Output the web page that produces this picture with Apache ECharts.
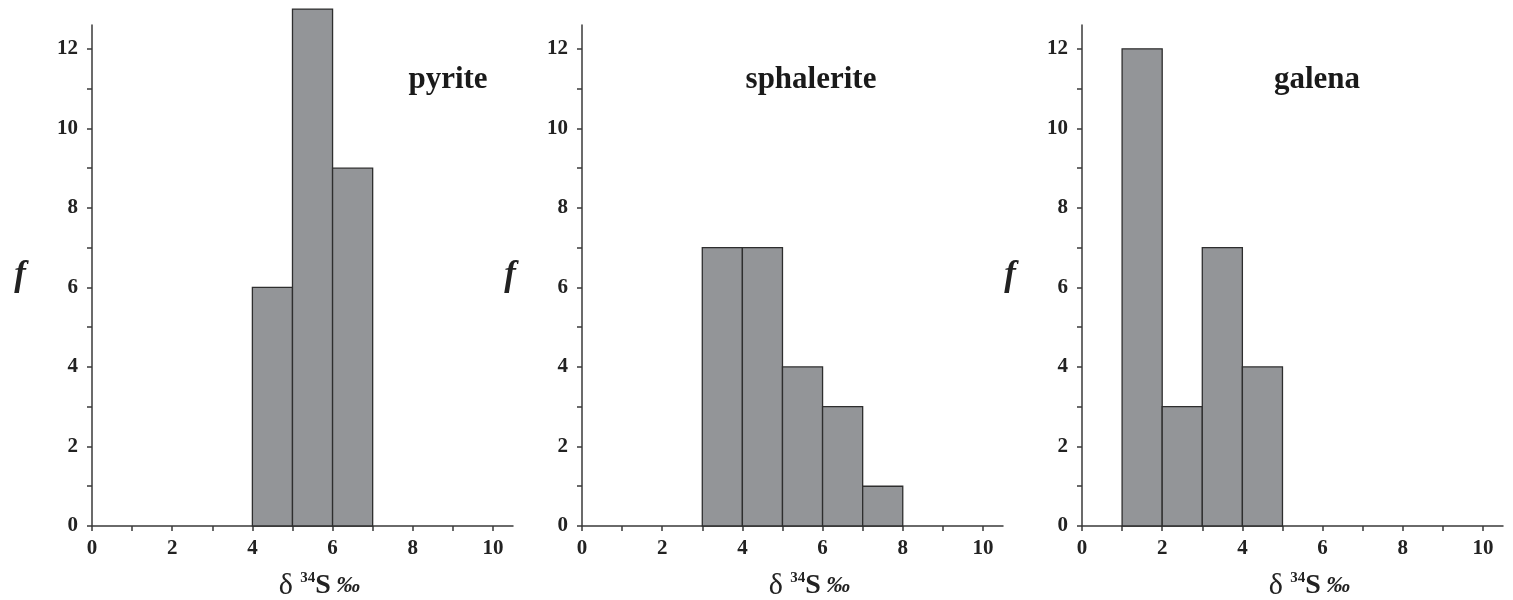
<!DOCTYPE html>
<html>
<head>
<meta charset="utf-8">
<script src="https://cdn.jsdelivr.net/npm/echarts@6/dist/echarts.min.js"></script>
<style>
  html, body { margin: 0; padding: 0; background: #fff; }
  #main { width: 1513px; height: 600px; }
</style>
</head>
<body>
<div id="main"></div>
<script>
// 各矿物 δ34S 直方图数据（组下限，组上限，频数）
const minerals = ['pyrite', 'sphalerite', 'galena']
const pyriteBins = [[4, 5], [5, 6], [6, 7]]
const pyriteCounts = [6, 13, 9]
const sphaleriteBins = [[3, 4], [4, 5], [5, 6], [6, 7], [7, 8]]
const sphaleriteCounts = [7, 7, 4, 3, 1]
const galenaBins = [[1, 2], [2, 3], [3, 4], [4, 5]]
const galenaCounts = [12, 3, 7, 4]
const xTickLabels = [0, 2, 4, 6, 8, 10]
const yTickLabels = [0, 2, 4, 6, 8, 10, 12]

const allBins = [pyriteBins, sphaleriteBins, galenaBins]
const allCounts = [pyriteCounts, sphaleriteCounts, galenaCounts]

const serif = '"Liberation Serif", "DejaVu Serif", serif'
const axisColor = '#3a3a3a'
const gridLefts = [92, 582, 1082]
const titleCenters = [443, 806, 1312]

const chart = echarts.init(document.getElementById('main'))

const grids = [], xAxes = [], yAxes = [], series = [], titles = []
minerals.forEach((name, i) => {
  grids.push({ left: gridLefts[i], top: 25, width: 421, height: 501, outerBoundsMode: 'none' })
  xAxes.push({
    type: 'value', gridIndex: i, min: 0, max: 10.5,
    name: '{d|δ} {sup|34}{s|S} {p|‰}',
    nameLocation: 'middle', nameGap: 45,
    nameTextStyle: {
      padding: [0, 0, 0, 34],
      rich: {
        d: { fontFamily: serif, fontSize: 30, color: '#222' },
        sup: { fontFamily: serif, fontSize: 15, fontWeight: 'bold', color: '#222', verticalAlign: 'top', padding: [0, 0, 12, 4] },
        s: { fontFamily: serif, fontSize: 28, fontWeight: 'bold', color: '#222' },
        p: { fontFamily: serif, fontSize: 24, fontWeight: 'bold', fontStyle: 'italic', color: '#222', padding: [0, 0, 0, 2] }
      }
    },
    axisLine: { show: true, onZero: false, lineStyle: { color: axisColor, width: 1.5 } },
    axisTick: { show: true, length: 5, customValues: [0, 1, 2, 3, 4, 5, 6, 7, 8, 9, 10], lineStyle: { color: axisColor, width: 1.5 } },
    axisLabel: { customValues: xTickLabels, margin: 12, fontFamily: serif, fontSize: 21, fontWeight: 'bold', color: '#222' },
    splitLine: { show: false }
  })
  yAxes.push({
    type: 'value', gridIndex: i, min: 0, max: 12.6,
    name: 'f', nameLocation: 'middle', nameRotate: 0, nameGap: 66,
    nameTextStyle: { fontFamily: serif, fontSize: 35, fontStyle: 'italic', fontWeight: 'bold', color: '#222' },
    axisLine: { show: true, lineStyle: { color: axisColor, width: 1.5 } },
    axisTick: { show: true, length: 5, customValues: [0, 1, 2, 3, 4, 5, 6, 7, 8, 9, 10, 11, 12], lineStyle: { color: axisColor, width: 1.5 } },
    axisLabel: { customValues: yTickLabels, margin: 14, fontFamily: serif, fontSize: 21, fontWeight: 'bold', color: '#222' },
    splitLine: { show: false }
  })
  titles.push({
    text: name, left: titleCenters[i], top: 59, textAlign: 'center',
    textStyle: { fontFamily: serif, fontSize: 31, fontWeight: 'bold', color: '#1a1a1a' }
  })
  series.push({
    type: 'custom', xAxisIndex: i, yAxisIndex: i, clip: false,
    data: allBins[i].map((b, k) => [b[0], b[1], allCounts[i][k]]),
    renderItem: function (params, api) {
      const p0 = api.coord([api.value(0), 0])
      const p1 = api.coord([api.value(1), api.value(2)])
      return {
        type: 'rect',
        shape: { x: p0[0], y: p1[1], width: p1[0] - p0[0], height: p0[1] - p1[1] },
        style: { fill: '#939598', stroke: '#2e2e2e', lineWidth: 1.3 }
      }
    }
  })
})

const option = {
  backgroundColor: '#fff',
  animation: false,
  title: titles,
  grid: grids,
  xAxis: xAxes,
  yAxis: yAxes,
  series: series
}

option && chart.setOption(option)
</script>
</body>
</html>
